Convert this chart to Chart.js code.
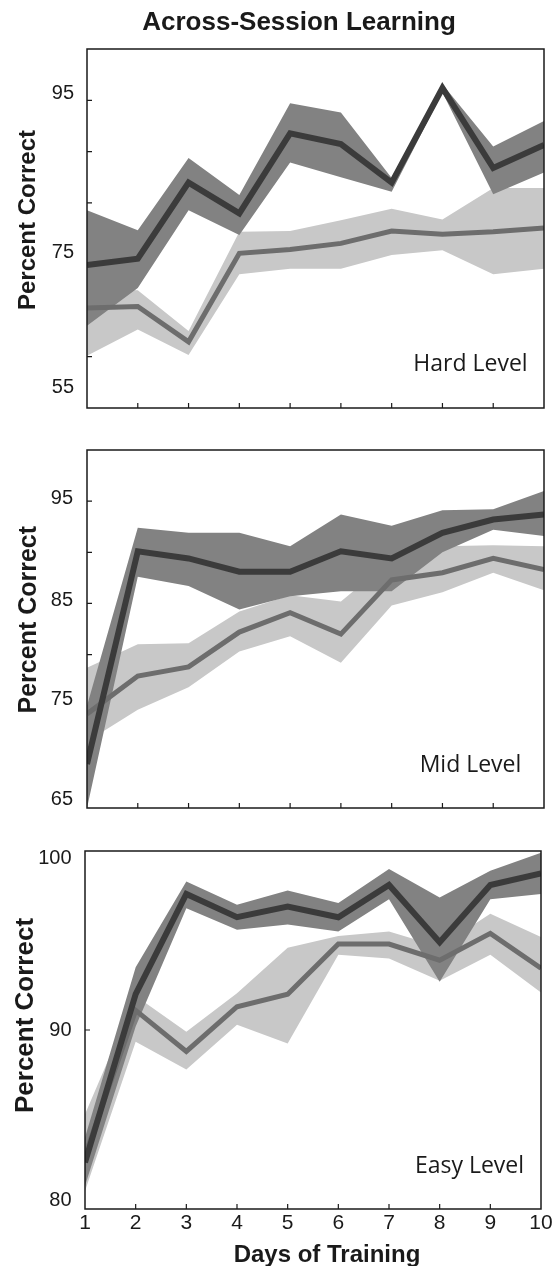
<!DOCTYPE html>
<html>
<head>
<meta charset="utf-8">
<script src="https://cdn.jsdelivr.net/npm/chart.js@4.4.1/dist/chart.umd.min.js"></script>
<style>
  body { margin: 0; background: #fff; }
  #wrap { position: relative; width: 560px; height: 1266px; }
  canvas { position: absolute; left: 0; }
</style>
</head>
<body>
<div id="wrap">
  <canvas id="hard" width="560" height="420" style="top:0"></canvas>
  <canvas id="mid" width="560" height="410" style="top:420px"></canvas>
  <canvas id="easy" width="560" height="436" style="top:830px"></canvas>
</div>
<script>
const days = [1, 2, 3, 4, 5, 6, 7, 8, 9, 10];

// dark trace = group A, light trace = group B (mean and shaded band edges)
const hardA = [73.6, 74.4, 84.3, 80.3, 90.7, 89.3, 84.3, 96.6, 86.2, 89.2];
const hardAHigh = [80.7, 78.1, 87.5, 82.7, 94.6, 93.4, 84.9, 97.1, 89.0, 92.3];
const hardALow = [65.7, 70.6, 80.7, 77.5, 86.9, 85.0, 83.1, 96.0, 82.8, 85.6];
const hardB = [68.0, 68.2, 63.6, 75.1, 75.6, 76.4, 78.0, 77.6, 77.9, 78.4];
const hardBHigh = [70.5, 70.3, 65.0, 77.9, 78.0, 79.4, 80.9, 79.5, 83.6, 83.6];
const hardBLow = [61.8, 65.2, 61.9, 72.4, 73.1, 73.1, 74.9, 75.5, 72.4, 73.1];
const hardTicks = [95, 75, 55];

const midA = [69.3, 90.1, 89.4, 88.1, 88.1, 90.1, 89.4, 91.9, 93.2, 93.7];
const midAHigh = [75.0, 92.4, 91.9, 91.9, 90.6, 93.7, 92.6, 94.1, 94.2, 96.0];
const midALow = [65.0, 87.6, 86.7, 84.4, 85.7, 86.2, 86.2, 90.0, 92.2, 91.6];
const midB = [74.2, 77.9, 78.8, 82.2, 84.1, 82.0, 87.3, 88.0, 89.4, 88.3];
const midBHigh = [78.7, 81.0, 81.1, 84.2, 85.8, 85.2, 89.3, 90.6, 90.7, 90.6];
const midBLow = [71.5, 74.6, 76.8, 80.3, 81.8, 79.2, 84.8, 86.1, 88.0, 86.3];
const midTicks = [95, 85, 75, 65];

const easyA = [82.6, 92.0, 97.6, 96.3, 96.9, 96.3, 98.1, 94.9, 98.1, 98.75];
const easyAHigh = [84.0, 93.5, 98.3, 97.0, 97.8, 97.1, 99.0, 97.4, 98.9, 99.9];
const easyALow = [81.3, 90.2, 96.8, 95.6, 95.9, 95.5, 97.3, 92.7, 97.3, 97.6];
const easyB = [83.0, 91.1, 88.8, 91.3, 92.0, 94.8, 94.8, 93.9, 95.4, 93.45];
const easyBHigh = [85.3, 91.9, 89.9, 92.05, 94.6, 95.25, 95.5, 94.65, 96.5, 95.2];
const easyBLow = [81.0, 89.35, 87.8, 90.3, 89.25, 94.2, 94.0, 92.75, 94.2, 92.1];
const easyTicks = [100, 90, 80];

const ink = '#1a1a1a';
const sans = '"Liberation Sans", Arial, Helvetica, sans-serif';
const labelFont = '"Open Sans", "Noto Sans", sans-serif';
const darkBand = '#828282';
const darkLine = '#3b3b3b';
const lightBand = '#c8c8c8';
const lightLine = '#6d6d6d';

function pts(vals) {
  return vals.map(function (v, i) { return { x: days[i], y: v }; });
}

function band(high, low, color, order) {
  return [
    { data: pts(high), borderWidth: 0, pointRadius: 0, fill: '+1', backgroundColor: color, order: order, clip: 0 },
    { data: pts(low), borderWidth: 0, pointRadius: 0, fill: false, order: order, clip: 0 }
  ];
}

function trace(vals, color, width, order) {
  return {
    data: pts(vals), borderColor: color, borderWidth: width, pointRadius: 0, fill: false,
    borderJoinStyle: 'miter', borderCapStyle: 'butt', tension: 0, order: order, clip: 0
  };
}

// frame, inward ticks and the hand placed texts
const decor = {
  id: 'decor',
  beforeDatasetsDraw(chart) {
    const ctx = chart.ctx, a = chart.chartArea, x = chart.scales.x, y = chart.scales.y;
    ctx.save();
    ctx.strokeStyle = ink;
    ctx.lineWidth = 1.2;
    ctx.beginPath();
    x.ticks.forEach(function (t) {
      if (t.value <= x.min + 1e-6 || t.value >= x.max - 1e-6) return;
      const px = x.getPixelForValue(t.value);
      ctx.moveTo(px, a.bottom);
      ctx.lineTo(px, a.bottom - 5);
    });
    y.ticks.forEach(function (t) {
      if (t.value <= y.min + 1e-6 || t.value >= y.max - 1e-6) return;
      const py = y.getPixelForValue(t.value);
      ctx.moveTo(a.left, py);
      ctx.lineTo(a.left + 5, py);
    });
    ctx.stroke();
    ctx.restore();
  },
  afterDatasetsDraw(chart, args, o) {
    const ctx = chart.ctx, a = chart.chartArea, y = chart.scales.y;
    ctx.save();
    ctx.strokeStyle = ink;
    ctx.lineWidth = 1.5;
    ctx.strokeRect(a.left, a.top, a.right - a.left, a.bottom - a.top);

    ctx.fillStyle = ink;
    ctx.font = '20px ' + sans;
    ctx.textAlign = 'right';
    ctx.textBaseline = 'middle';
    o.ticks.forEach(function (v, i) {
      ctx.fillText(String(v), o.tickX, y.getPixelForValue(v) + o.tickShift[i]);
    });

    ctx.textBaseline = 'alphabetic';
    ctx.textAlign = 'center';
    ctx.save();
    ctx.translate(o.yTitle[0], o.yTitle[1]);
    ctx.rotate(-Math.PI / 2);
    ctx.font = 'bold ' + o.yTitle[2] + 'px ' + sans;
    ctx.fillText('Percent Correct', 0, 0);
    ctx.restore();

    ctx.font = '23px ' + labelFont;
    ctx.fillText(o.level[0], o.level[1], o.level[2]);

    if (o.title) {
      ctx.font = 'bold 26px ' + sans;
      ctx.fillText(o.title[0], o.title[1], o.title[2]);
    }
    if (o.xTitle) {
      ctx.font = 'bold 24px ' + sans;
      ctx.fillText(o.xTitle[0], o.xTitle[1], o.xTitle[2]);
    }
    ctx.restore();
  }
};

function makePanel(id, s) {
  return new Chart(document.getElementById(id), {
    type: 'line',
    data: {
      datasets: []
        .concat(band(s.bHigh, s.bLow, lightBand, 5))
        .concat(band(s.aHigh, s.aLow, darkBand, 4))
        .concat([trace(s.b, lightLine, 5, 1), trace(s.a, darkLine, 6, 0)])
    },
    options: {
      responsive: false,
      animation: false,
      events: [],
      layout: { padding: s.pad },
      plugins: { legend: { display: false }, tooltip: { enabled: false }, decor: s.decor },
      scales: {
        x: {
          type: 'linear', min: 1, max: 10, display: s.showDays,
          afterFit: function (sc) { sc.height = s.xHeight; },
          grid: { display: false, drawTicks: false },
          border: { display: false },
          ticks: { stepSize: 1, padding: 2, color: ink, font: { family: sans, size: 21 }, maxRotation: 0, autoSkip: false }
        },
        y: { type: 'linear', min: s.min, max: s.max, display: false, ticks: { stepSize: s.step } }
      }
    },
    plugins: [decor]
  });
}

makePanel('hard', {
  a: hardA, aHigh: hardAHigh, aLow: hardALow, b: hardB, bHigh: hardBHigh, bLow: hardBLow,
  min: 55, max: 55 + 140 / 3, step: 20 / 3, showDays: false, xHeight: 0,
  pad: { left: 87, right: 16, top: 49, bottom: 12 },
  decor: {
    ticks: hardTicks, tickShift: [-6.7, -1.7, -21], tickX: 74,
    yTitle: [35, 220, 24], level: ['Hard Level', 470.5, 370.5],
    title: ['Across-Session Learning', 299, 29.5]
  }
});

makePanel('mid', {
  a: midA, aHigh: midAHigh, aLow: midALow, b: midB, bHigh: midBHigh, bLow: midBLow,
  min: 65, max: 100, step: 5, showDays: false, xHeight: 0,
  pad: { left: 87, right: 16, top: 30, bottom: 22 },
  decor: {
    ticks: midTicks, tickShift: [-2.5, -3.3, -6, -8.3], tickX: 73,
    yTitle: [36, 199.7, 25], level: ['Mid Level', 470.5, 351.5]
  }
});

makePanel('easy', {
  a: easyA, aHigh: easyAHigh, aLow: easyALow, b: easyB, bHigh: easyBHigh, bLow: easyBLow,
  min: 80, max: 100, step: 10, showDays: true, xHeight: 57,
  pad: { left: 85, right: 19, top: 21, bottom: 0 },
  decor: {
    ticks: easyTicks, tickShift: [7.3, 0, -9], tickX: 71.5,
    yTitle: [33.3, 185.5, 26], level: ['Easy Level', 469.5, 343],
    xTitle: ['Days of Training', 327, 431.7]
  }
});
</script>
</body>
</html>
